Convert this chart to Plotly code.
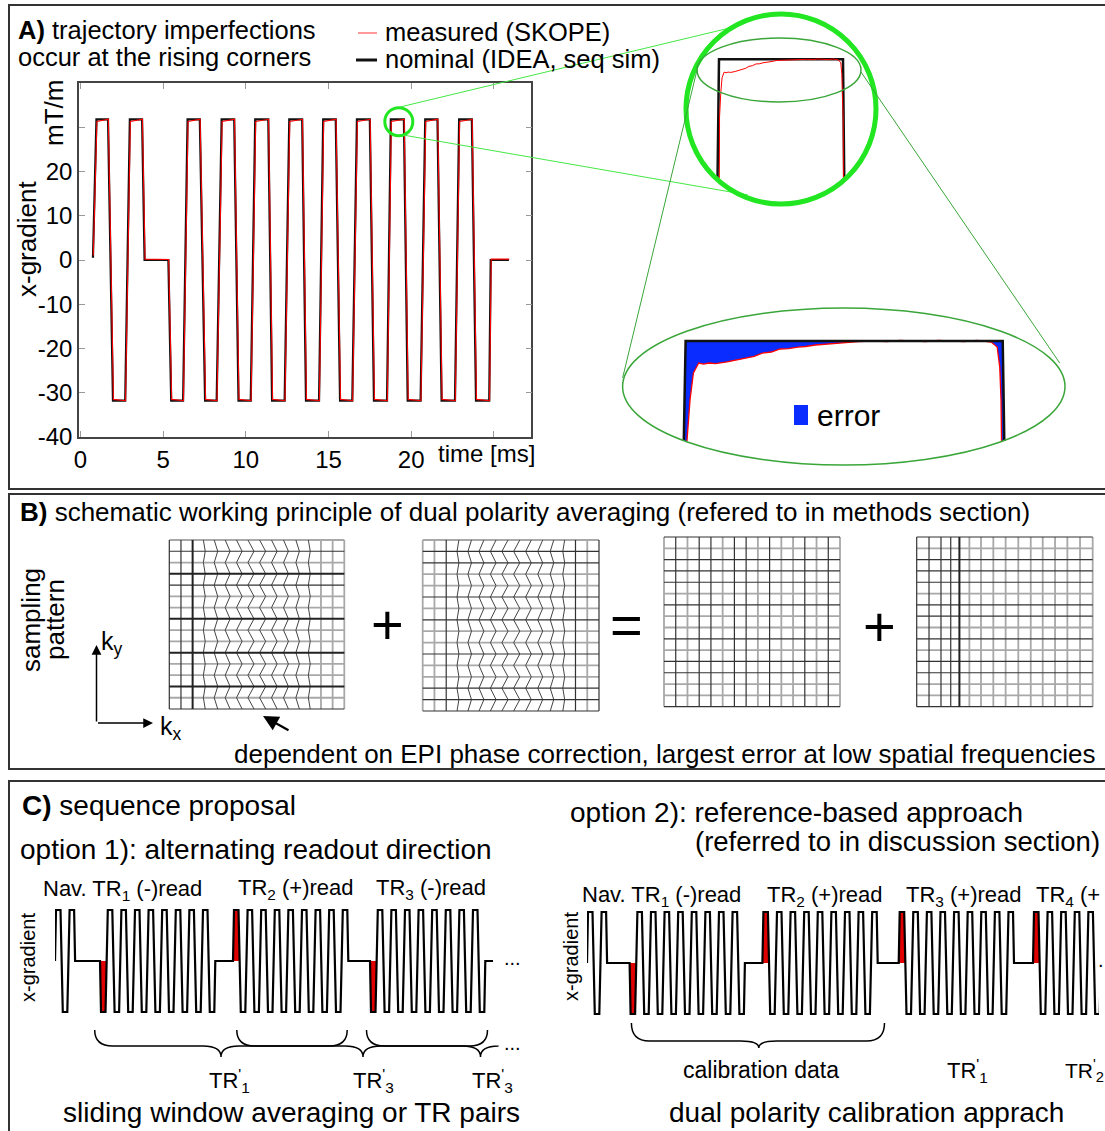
import plotly.graph_objects as go

W, H = 1105, 1131
FONT = "Liberation Sans, Arial, Helvetica, sans-serif"

# ======================= DATA =======================
# Panel A: x-gradient waveform breakpoints (time in ms, gradient in mT/m)
t_nominal = [0.76, 0.97, 1.67, 1.97, 2.71, 2.99, 3.73, 3.88, 5.32, 5.49, 6.21, 6.48, 7.22, 7.54, 8.24, 8.54,
             9.30, 9.56, 10.30, 10.57, 11.36, 11.59, 12.35, 12.63, 13.41, 13.64, 14.43, 14.68, 15.44, 15.70,
             16.44, 16.72, 17.50, 17.75, 18.54, 18.77, 19.56, 19.79, 20.57, 20.85, 21.59, 21.84, 22.65, 22.90,
             23.67, 23.92, 24.72, 24.81, 25.91]
g_nominal = [0.5, 31.8, 31.8, -31.8, -31.8, 31.8, 31.8, 0, 0, -31.8, -31.8, 31.8, 31.8, -31.8, -31.8, 31.8,
             31.8, -31.8, -31.8, 31.8, 31.8, -31.8, -31.8, 31.8, 31.8, -31.8, -31.8, 31.8, 31.8, -31.8,
             -31.8, 31.8, 31.8, -31.8, -31.8, 31.8, 31.8, -31.8, -31.8, 31.8, 31.8, -31.8, -31.8, 31.8,
             31.8, -31.8, -31.8, 0, 0]
t_measured = [0.78, 1.00, 1.69, 2.00, 2.73, 3.02, 3.75, 3.91, 5.34, 5.52, 6.23, 6.51, 7.24, 7.57, 8.26, 8.57,
              9.32, 9.59, 10.32, 10.60, 11.38, 11.62, 12.37, 12.66, 13.43, 13.67, 14.45, 14.71, 15.46, 15.73,
              16.46, 16.75, 17.52, 17.78, 18.56, 18.80, 19.58, 19.82, 20.59, 20.88, 21.61, 21.87, 22.67, 22.93,
              23.69, 23.95, 24.74, 24.84, 25.93]
g_measured = [1.0, 31.3, 31.8, -31.5, -31.8, 31.3, 31.8, 0.2, 0.1, -31.5, -31.8, 31.3, 31.8, -31.5, -31.8, 31.3,
              31.8, -31.5, -31.8, 31.3, 31.8, -31.5, -31.8, 31.3, 31.8, -31.5, -31.8, 31.3, 31.8, -31.5,
              -31.8, 31.3, 31.8, -31.5, -31.8, 31.3, 31.8, -31.5, -31.8, 31.3, 31.8, -31.5, -31.8, 31.3,
              31.8, -31.5, -31.8, 0.2, 0.2]
a_xticks = [0, 5, 10, 15, 20, 25]
a_xticktext = ["0", "5", "10", "15", "20", ""]
a_yticks = [-40, -30, -20, -10, 0, 10, 20, 30]
a_yticktext = ["-40", "-30", "-20", "-10", "0", "10", "20", ""]

# zoomed plateau (time within plateau in ms, gradient in mT/m)
zoom_t_nominal = [-0.0159, 0.0, 0.74, 0.7537]
zoom_g_nominal = [25.0, 31.8, 31.8, 25.0]
zoom_t_measured = [0.000, 0.0033, 0.0103, 0.0182, 0.0306, 0.042, 0.0547, 0.07, 0.0967, 0.115, 0.138, 0.16,
                   0.179, 0.20, 0.2205, 0.24, 0.262, 0.28, 0.303, 0.325, 0.344, 0.37, 0.403, 0.44, 0.47,
                   0.501, 0.53, 0.56, 0.59, 0.618, 0.65, 0.68, 0.70, 0.713, 0.727, 0.733, 0.736, 0.741, 0.745]
zoom_g_measured = [25.0, 30.0, 30.73, 31.22, 31.40, 31.38, 31.40, 31.39, 31.42, 31.45, 31.49, 31.52,
                   31.58, 31.60, 31.655, 31.66, 31.69, 31.70, 31.727, 31.74, 31.764, 31.77, 31.79, 31.80, 31.79,
                   31.81, 31.80, 31.79, 31.81, 31.80, 31.79, 31.81, 31.80, 31.78, 31.69, 31.33, 30.73, 30.0, 25.0]

# Panel B: sampling patterns (k-space cell units, 15 x 15 cells)
epi_shift = [0, 0, 0, 0.08, 0.15, 0.21, 0.24, 0.26, 0.26, 0.24, 0.21, 0.15, 0.08, 0, 0, 0]
kx_regular = [0, 1, 2, 3, 4, 5, 6, 7, 8, 9, 10, 11, 12, 13, 14, 15]
kx_dense = [0, 1.05, 2.07, 2.9, 3.64, 4.49, 5.48, 6.53, 7.58, 8.66, 9.72, 10.74, 11.79, 12.84, 13.92, 15]
g1_vshade = "ddDmmmmmmmmmmggg"
g1_hshade = "gdgDdggDggDggDgd"
g2_vshade = "ggdmmmmmmmmmmdgd"
g2_hshade = "gddggdgdggdggddd"
g3_vshade = "gdgddgddgdggdgdg"
g3_hshade = "dgdddgdggdgddggd"
g4_vshade = "ddddDggggggggggg"
g4_hshade = "dgdddgddgdgddggd"

# Panel C: sequence schematics (schematic time units)
readout_plateaus = 17
nav_plateaus = 3
opt1_blocks = ["Nav", "TR1", "TR2", "TR3"]
opt1_polarity = [1, -1, 1, -1]
opt1_onset = [0, 45, 178, 315]
opt1_stop = 438
opt2_blocks = ["Nav", "TR1", "TR2", "TR3", "TR4"]
opt2_polarity = [1, -1, 1, 1, 1]
opt2_onset = [0, 42.6, 175.4, 311.7, 446]
opt2_stop = 600

# ======================= HELPERS =======================
fig = go.Figure()
layout_axes = {}
annotations = []
shapes = []


def axes(n, xpx, ypx, xr, yr, **kw):
    xa = dict(domain=[xpx[0] / W, xpx[1] / W], range=xr, anchor="y%s" % n, visible=False,
              fixedrange=True, automargin=False)
    ya = dict(domain=[1 - ypx[1] / H, 1 - ypx[0] / H], range=yr, anchor="x%s" % n, visible=False,
              fixedrange=True, automargin=False)
    layout_axes["xaxis%s" % n] = xa
    layout_axes["yaxis%s" % n] = ya


def text(s, x, y, size, anchor="left", angle=0, yanchor="middle"):
    annotations.append(dict(text=s, x=x / W, y=1 - y / H, xref="paper", yref="paper", showarrow=False,
                            xanchor=anchor, yanchor=yanchor, textangle=angle, borderpad=0,
                            font=dict(size=size, color="black", family=FONT)))


def line_px(x0, y0, x1, y1, color, width):
    shapes.append(dict(type="line", xref="x", yref="y", x0=x0, y0=y0, x1=x1, y1=y1,
                       line=dict(color=color, width=width)))


def ellipse_px(x0, y0, x1, y1, color, width):
    shapes.append(dict(type="circle", xref="x", yref="y", x0=x0, y0=y0, x1=x1, y1=y1,
                       line=dict(color=color, width=width)))


def arrow_px(xh, yh, xt, yt, width=1.6, size=1.2):
    annotations.append(dict(x=xh, y=yh, ax=xt, ay=yt, xref="x", yref="y", axref="x", ayref="y",
                            showarrow=True, arrowhead=2, arrowsize=size, arrowwidth=width,
                            arrowcolor="black", text=""))


def brace_px(x0, x1, xt, yt, ym, yb, q=16, right_end=None):
    p = "M %s,%s Q %s,%s %s,%s L %s,%s Q %s,%s %s,%s Q %s,%s %s,%s" % (
        x0, yt, x0, ym, x0 + q, ym, xt - q, ym, xt, ym, xt, yb, xt, ym, xt + q, ym)
    if right_end is None:
        p += " L %s,%s Q %s,%s %s,%s" % (x1 - q, ym, x1, ym, x1, yt)
    else:
        p += " L %s,%s" % (right_end, ym)
    shapes.append(dict(type="path", xref="x", yref="y", path=p, line=dict(color="black", width=1.5)))


# canvas axis (pixel units) for decorations; its traces are clipped to the page
layout_axes["xaxis"] = dict(domain=[0, 1], range=[0, W], visible=False, fixedrange=True, anchor="y",
                            automargin=False)
layout_axes["yaxis"] = dict(domain=[0, 1], range=[H, 0], visible=False, fixedrange=True, anchor="x",
                            automargin=False)

# panel frames (open to the right / bottom like the cropped original)
frame_x, frame_y = [], []
for y0, y1 in [(5, 489), (494, 769), (781, 1160)]:
    frame_x += [1130, 9, 9, 1130, None]
    frame_y += [y0, y0, y1, y1, None]
fig.add_trace(go.Scatter(x=frame_x, y=frame_y, mode="lines", line=dict(color="#333", width=2),
                         hoverinfo="skip", xaxis="x", yaxis="y"))

# ======================= PANEL A =======================
layout_axes["xaxis2"] = dict(domain=[78.9 / W, 531.4 / W], range=[-0.09, 27.27], anchor="y2",
                             showline=True, linecolor="#444", linewidth=1.5, mirror="ticks",
                             ticks="inside", ticklen=6, tickcolor="#999", tickwidth=1,
                             tickvals=a_xticks, ticktext=a_xticktext,
                             tickfont=dict(size=24, family=FONT, color="black"),
                             showgrid=False, zeroline=False, fixedrange=True, automargin=False)
layout_axes["yaxis2"] = dict(domain=[1 - 437 / H, 1 - 83 / H], range=[-40, 40], anchor="x2",
                             showline=True, linecolor="#444", linewidth=1.5, mirror="ticks",
                             ticks="inside", ticklen=6, tickcolor="#999", tickwidth=1,
                             tickvals=a_yticks, ticktext=a_yticktext,
                             tickfont=dict(size=24, family=FONT, color="black"),
                             showgrid=False, zeroline=False, fixedrange=True, automargin=False)
fig.add_trace(go.Scatter(x=t_nominal, y=g_nominal, mode="lines", line=dict(color="#111", width=2.2),
                         xaxis="x2", yaxis="y2", hoverinfo="skip"))
fig.add_trace(go.Scatter(x=t_measured, y=g_measured, mode="lines", line=dict(color="#ff0000", width=1.1),
                         xaxis="x2", yaxis="y2", hoverinfo="skip"))

# circle inset (axis 3)
axes(3, (705, 857), (50, 178), [-0.08355, 0.82358], [28.091, 32.091])
fig.add_trace(go.Scatter(x=zoom_t_nominal, y=zoom_g_nominal, mode="lines", line=dict(color="#111", width=2.5),
                         xaxis="x3", yaxis="y3", hoverinfo="skip"))
fig.add_trace(go.Scatter(x=zoom_t_measured, y=zoom_g_measured, mode="lines", line=dict(color="#ff0000", width=1),
                         xaxis="x3", yaxis="y3", hoverinfo="skip"))

# ellipse inset (axis 4) with error area
axes(4, (680, 1008), (336, 441), [-0.0131, 0.7523], [29.982, 31.891])
fig.add_trace(go.Scatter(x=zoom_t_nominal, y=zoom_g_nominal, mode="lines", line=dict(width=0),
                         xaxis="x4", yaxis="y4", hoverinfo="skip"))
fig.add_trace(go.Scatter(x=zoom_t_measured, y=zoom_g_measured, mode="lines", fill="tonexty",
                         fillcolor="#0a2cff", line=dict(color="#ff0000", width=1.3),
                         xaxis="x4", yaxis="y4", hoverinfo="skip"))
fig.add_trace(go.Scatter(x=zoom_t_nominal, y=zoom_g_nominal, mode="lines", line=dict(color="#111", width=2.5),
                         xaxis="x4", yaxis="y4", hoverinfo="skip"))

# decorations panel A
ellipse_px(384.8, 107.7, 412.8, 135.7, "#22e622", 3)
line_px(400, 107, 738, 26, "#44e844", 1)
line_px(403, 135, 748, 195, "#44e844", 1)
ellipse_px(686, 14, 876, 204, "#22e622", 5)
ellipse_px(697, 38, 861, 102, "#3aa63a", 1.5)
line_px(697, 70, 622.6, 378, "#3aa63a", 1)
line_px(861, 72, 1059.7, 363, "#3aa63a", 1)
ellipse_px(622.6, 308, 1065, 465, "#3aa63a", 1.5)
shapes.append(dict(type="rect", xref="x", yref="y", x0=794, y0=405, x1=808, y1=425,
                   fillcolor="#0a2cff", line=dict(width=0)))
# legend samples
line_px(358, 33, 377, 33, "#ff3333", 1)
line_px(356, 60, 377, 60, "#111", 3)

text("<b>A)</b> trajectory imperfections", 17, 30, 25.5)
text("occur at the rising corners", 17, 57, 25.5)
text("measured (SKOPE)", 384, 32, 25.5)
text("nominal (IDEA, seq sim)", 384, 59, 25.5)
text("x-gradient", 27, 239, 26, anchor="center", angle=-90)
text("mT/m", 54, 113, 26, anchor="center", angle=-90)
text("time [ms]", 437, 453, 24)
text("error", 816, 415, 30)

# ======================= PANEL B =======================
STY = {"g": ("#a8a8a8", 1.8), "m": ("#444444", 1.0), "d": ("#333333", 1.2), "D": ("#222222", 2.0)}


def grid(n, box, kx, shift, phase, vshade, hshade):
    x0, y0, x1, y1 = box
    cw, ch = (x1 - x0) / 15.0, (y1 - y0) / 15.0
    pad = 3
    axes(n, (x0 - pad, x1 + pad), (y0 - pad, y1 + pad), [-pad / cw, 15 + pad / cw], [15 + pad / ch, -pad / ch])
    groups = {}
    for i, xv in enumerate(kx):
        a = shift[i] if shift else 0
        if a:
            xs = [xv + phase * a * (1 if j % 2 == 0 else -1) for j in range(16)]
            ys = list(range(16))
        else:
            xs, ys = [xv, xv], [0, 15]
        gx, gy = groups.setdefault(vshade[i], ([], []))
        gx.extend(xs + [None])
        gy.extend(ys + [None])
    for j in range(16):
        gx, gy = groups.setdefault(hshade[j], ([], []))
        gx.extend([kx[0], kx[-1], None])
        gy.extend([j, j, None])
    for code in ["g", "m", "d", "D"]:
        if code in groups:
            c, w = STY[code]
            fig.add_trace(go.Scatter(x=groups[code][0], y=groups[code][1], mode="lines",
                                     line=dict(color=c, width=w), xaxis="x%d" % n, yaxis="y%d" % n,
                                     hoverinfo="skip"))


grid(5, (169.3, 540, 344.3, 709), kx_regular, epi_shift, -1, g1_vshade, g1_hshade)
grid(6, (422.7, 540, 599, 711), kx_regular, epi_shift, 1, g2_vshade, g2_hshade)
grid(7, (664, 537, 840, 706.7), kx_regular, None, 1, g3_vshade, g3_hshade)
grid(8, (916.7, 537, 1092.7, 706.7), kx_dense, None, 1, g4_vshade, g4_hshade)

text("<b>B)</b> schematic working principle of dual polarity averaging (refered to in methods section)", 19, 512, 26)
text("sampling", 31, 620, 26, anchor="center", angle=-90)
text("pattern", 55, 619, 26, anchor="center", angle=-90)
text("k<sub>y</sub>", 100, 643, 25)
text("k<sub>x</sub>", 159, 728, 25)
text("+", 387, 624, 56, anchor="center")
text("=", 626, 624, 56, anchor="center")
text("+", 880, 626, 56, anchor="center")
text("dependent on EPI phase correction, largest error at low spatial frequencies", 233, 754, 26)
arrow_px(96.5, 645, 96.5, 723, 1.5, 1.3)
arrow_px(153, 723, 96.5, 723, 1.5, 1.3)
arrow_px(263, 716, 290, 731, 2.2, 1.4)

# ======================= PANEL C =======================
R0, FLAT, RAMP = 1.0, 4.5, 2.3


def lobes(t0, pol, n):
    pts = [(t0, 0)]
    t, s = t0 + R0, pol
    pts.append((t, s))
    for k in range(n):
        t += FLAT
        pts.append((t, s))
        if k < n - 1:
            t += RAMP
            s = -s
            pts.append((t, s))
    t += R0
    pts.append((t, 0))
    return pts


def sequence(n, xpx, ypx, blocks, pols, onsets, stop):
    x0 = xpx[0]
    axes(n, xpx, ypx, [0, xpx[1] - x0], [-1.098, 1.098])
    pts = []
    for b, p, t0 in zip(blocks, pols, onsets):
        cnt = nav_plateaus if b == "Nav" else readout_plateaus
        pts += lobes(t0, p, cnt)
        if b != "Nav":
            rx = [t0, t0 + R0, t0 + R0 + FLAT, t0 + R0 + FLAT + RAMP / 2, t0]
            ry = [0, p, p, 0, 0]
            fig.add_trace(go.Scatter(x=rx, y=ry, mode="lines", fill="toself", fillcolor="#e00000",
                                     line=dict(width=0), xaxis="x%d" % n, yaxis="y%d" % n, hoverinfo="skip"))
    pts.append((stop, 0))
    fig.add_trace(go.Scatter(x=[p[0] for p in pts], y=[p[1] for p in pts], mode="lines",
                             line=dict(color="black", width=2.2), xaxis="x%d" % n, yaxis="y%d" % n,
                             hoverinfo="skip"))


sequence(9, (55, 500), (905, 1017), opt1_blocks, opt1_polarity, opt1_onset, opt1_stop)
sequence(10, (587, 1099), (907, 1019), opt2_blocks, opt2_polarity, opt2_onset, opt2_stop)

brace_px(94.7, 347.2, 221, 1030, 1046, 1057, q=18)
brace_px(236.8, 487.5, 363, 1030, 1046, 1057, q=18)
brace_px(366.5, None, 480.5, 1030, 1046, 1057, q=18, right_end=498)
brace_px(631.4, 884.5, 758.8, 1023, 1041, 1048, q=18)

text("<b>C)</b> sequence proposal", 21, 805, 28)
text("option 1): alternating readout direction", 19, 850, 28)
text("x-gradient", 28, 958, 20, anchor="center", angle=-90)
text("Nav. TR<sub>1</sub> (-)read", 42, 890, 22)
text("TR<sub>2</sub> (+)read", 237, 889, 22)
text("TR<sub>3</sub> (-)read", 375, 889, 22)
text("...", 503, 958, 20)
text("...", 503, 1043, 20)
text("TR<sup>'</sup><sub>1</sub>", 208, 1080, 22)
text("TR<sup>'</sup><sub>3</sub>", 352, 1080, 22)
text("TR<sup>'</sup><sub>3</sub>", 471, 1080, 22)
text("sliding window averaging or TR pairs", 62, 1112, 28)

text("option 2): reference-based approach", 569, 812, 28)
text("(referred to in discussion section)", 694, 841, 27.5)
text("x-gradient", 571, 957, 20, anchor="center", angle=-90)
text("Nav. TR<sub>1</sub> (-)read", 581, 896, 22)
text("TR<sub>2</sub> (+)read", 766, 896, 22)
text("TR<sub>3</sub> (+)read", 905, 896, 22)
text("TR<sub>4</sub> (+", 1035, 896, 22)
text(".", 1097, 960, 20)
text("calibration data", 682, 1070, 23)
text("TR<sup>'</sup><sub>1</sub>", 946, 1070, 22)
text("TR<sup>'</sup><sub>2</sub>", 1064, 1070, 21)
text("dual polarity calibration apprach", 668, 1112, 28)

fig.update_layout(width=W, height=H, margin=dict(l=0, r=0, t=0, b=0, pad=0), autosize=False,
                  paper_bgcolor="white", plot_bgcolor="rgba(0,0,0,0)", showlegend=False,
                  font=dict(family=FONT, color="black"), annotations=annotations, shapes=shapes,
                  **layout_axes)
fig.write_html("out.html", config={"displayModeBar": False},
               post_script="document.body.style.margin='0';document.body.style.overflow='hidden';")
